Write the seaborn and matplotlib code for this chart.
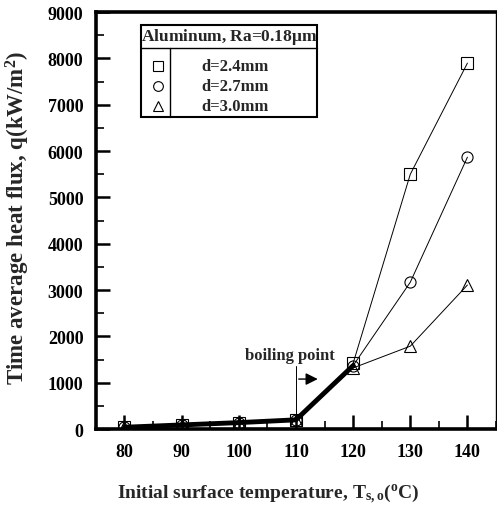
import matplotlib
matplotlib.use("Agg")
import matplotlib.pyplot as plt
import seaborn as sns
import pandas as pd
from matplotlib.patches import Rectangle
from matplotlib.ticker import MultipleLocator

# Measured heat flux for three droplet diameters
temps = [80, 90, 100, 110, 120, 130, 140]
q_d24 = [40, 90, 140, 200, 1420, 5500, 7900]
q_d27 = [40, 90, 140, 200, 1370, 3170, 5870]
q_d30 = [40, 90, 140, 200, 1320, 1790, 3110]
labels = ["d=2.4mm", "d=2.7mm", "d=3.0mm"]
marker_shapes = ["s", "o", "^"]

df = pd.concat([
    pd.DataFrame({"T": temps, "q": q, "d": lab})
    for q, lab in zip([q_d24, q_d27, q_d30], labels)
], ignore_index=True)

sns.set_theme(style="white")
plt.rcParams["font.family"] = ["Liberation Serif", "DejaVu Serif"]
plt.rcParams["font.weight"] = "bold"
plt.rcParams["mathtext.fontset"] = "custom"
plt.rcParams["mathtext.rm"] = "Liberation Serif:bold"
plt.rcParams["mathtext.it"] = "Liberation Serif:bold"
plt.rcParams["mathtext.bf"] = "Liberation Serif:bold"

fig = plt.figure(figsize=(4.97, 5.06), dpi=100)
ax = fig.add_axes([0.193, 0.150, 0.805, 0.824])

# thin lines with open markers for each diameter
sns.lineplot(data=df, x="T", y="q", hue="d", style="d",
             palette=["black"] * 3, markers=dict(zip(labels, marker_shapes)),
             dashes=False, linewidth=0.7, markersize=8,
             markerfacecolor="none", markeredgecolor="black",
             markeredgewidth=0.8, legend=False, ax=ax, zorder=3)

# thick common curve up to 120 degC
sub = df[df["T"] <= 120]
sns.lineplot(data=sub, x="T", y="q", estimator="mean", errorbar=None,
             color="black", linewidth=3.5, ax=ax, zorder=4)

ax.set_xlim(75, 145)
ax.set_ylim(0, 9000)
ax.xaxis.set_major_locator(MultipleLocator(10))
ax.xaxis.set_minor_locator(MultipleLocator(5))
ax.yaxis.set_major_locator(MultipleLocator(1000))
ax.yaxis.set_minor_locator(MultipleLocator(500))
ax.tick_params(axis="both", which="major", direction="in", length=10, width=1.8,
               labelsize=13, colors="black")
ax.tick_params(axis="x", which="major", pad=10)
ax.tick_params(axis="y", which="major", pad=9)
ax.tick_params(axis="both", which="minor", direction="in", length=6, width=1.4)
ax.tick_params(axis="x", which="both", bottom=True, top=False)
ax.tick_params(axis="y", which="both", left=True, right=False)
for lab in ax.get_xticklabels() + ax.get_yticklabels():
    lab.set_fontweight("bold")

for side in ["left", "bottom", "top", "right"]:
    ax.spines[side].set_color("black")
    ax.spines[side].set_linewidth(2.6)
ax.spines["right"].set_linewidth(1.0)

ax.set_xlabel(r"Initial surface temperature, T$_{\rm s,o}$($^{\rm o}$C)",
              fontsize=14, fontweight="bold")
ax.xaxis.set_label_coords(0.43, -0.125)
ax.set_ylabel(r"Time average heat flux, q(kW/m$^{2}$)",
              fontsize=16.5, fontweight="bold")
ax.yaxis.set_label_coords(-0.16, 0.51)

# boiling point marker
ax.plot([110, 110], [300, 1360], color="black", linewidth=0.7, zorder=2)
ax.annotate("", xy=(114.3, 1080), xytext=(110, 1080),
            arrowprops=dict(arrowstyle="-|>", color="black", lw=1.0,
                            mutation_scale=18))
ax.text(109.0, 1600, "boiling point", ha="center", va="center",
        fontsize=12, fontweight="bold")

# boxed key
x0, x1, y0, y1 = 0.113, 0.553, 0.748, 0.969
ax.add_patch(Rectangle((x0, y0), x1 - x0, y1 - y0, transform=ax.transAxes,
                       fill=False, edgecolor="black", linewidth=1.5, zorder=5))
ysep = 0.914
ax.plot([x0, x1], [ysep, ysep], transform=ax.transAxes, color="black",
        linewidth=1.0, zorder=5)
xsep = 0.185
ax.plot([xsep, xsep], [y0, ysep], transform=ax.transAxes, color="black",
        linewidth=1.0, zorder=5)
ax.text((x0 + x1) / 2, 0.943, r"Aluminum, Ra=0.18$\mu$m", transform=ax.transAxes,
        ha="center", va="center", fontsize=12.5, fontweight="bold", zorder=6)
rows = [0.871, 0.823, 0.775]
for m, lab, yy in zip(marker_shapes, labels, rows):
    ax.plot([0.155], [yy], marker=m, markersize=7,
            markerfacecolor="none", markeredgecolor="black",
            markeredgewidth=0.8, transform=ax.transAxes, zorder=6)
    ax.text(0.348, yy, lab, transform=ax.transAxes, ha="center", va="center",
            fontsize=12, fontweight="bold", zorder=6)

fig.savefig("out.png", dpi=100)
